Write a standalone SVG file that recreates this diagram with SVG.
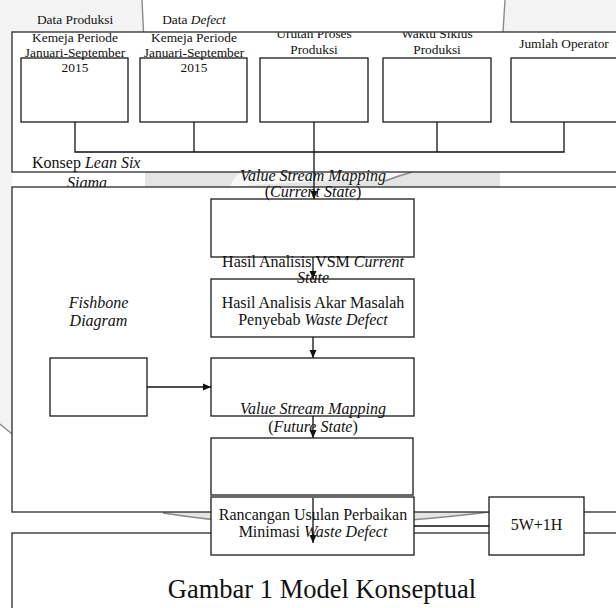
<svg xmlns="http://www.w3.org/2000/svg" width="616" height="608" viewBox="0 0 616 608">
<defs>
<style>
.box{fill:#fff;stroke:#1a1a1a;stroke-width:1.3}
.frame{fill:#fff;stroke:#2a2a2a;stroke-width:1.3}
.ln{fill:none;stroke:#111;stroke-width:1.3}
.t{font-family:"Liberation Serif","Times New Roman",serif;font-size:13.4px;fill:#111;text-anchor:middle}
.m{font-size:16px}
.i{font-style:italic}
.wm{fill:#f3f3f3}
.wm2{fill:#e4e4e4}
.wl{fill:none;stroke:#8a8a8a;stroke-width:1.4}
</style>
<marker id="ah" markerUnits="userSpaceOnUse" markerWidth="8" markerHeight="8" refX="8" refY="4" orient="auto">
<path d="M0,0.5 L8,4 L0,7.5 z" fill="#111"/>
</marker>
<clipPath id="inF1"><rect x="0" y="32.5" width="616" height="200"/></clipPath>
</defs>
<rect width="616" height="608" fill="#fff"/>
<g id="watermark">
<path class="wm" d="M0,0 H142 L143.5,32 H0 Z"/>
<path class="wm" d="M505,0 H616 V32 H503 Z"/>
<path class="wm" d="M0,32 H12 V434 L0,424 Z"/>
<path class="wl" d="M142,0 L143.5,32"/>
<path class="wl" d="M505,0 L503,32"/>
<path class="wl" d="M0,424 L12,434"/>
<path class="wm2" d="M145,172 H500 V187 H145 Z"/>
<path fill="#f7f7f7" d="M230,187 Q300,181 385,180 Q400,176 412,172 H240 Q232,180 230,187 Z"/>
<path class="wl" d="M385,181 Q398,176 412,172"/>
<path class="wm2" d="M163,512 H489 Q420,521 300,527 Q220,522 163,513 Z"/>
<path class="wl" d="M163,513 Q220,522 300,527 Q420,521 489,512"/>
</g>
<g id="frame-lean">
<rect class="frame" x="12" y="32" width="620" height="140"/>
<text class="t m" x="32" y="167.5" text-anchor="start" style="text-anchor:start">Konsep <tspan class="i">Lean Six</tspan></text>
<text class="t m i" x="87" y="188">Sigma</text>
</g>
<g id="frame-main">
<rect class="frame" x="12" y="187" width="620" height="325"/>
</g>
<g id="frame-bottom">
<rect class="frame" x="12" y="533" width="620" height="90"/>
</g>
<g id="node-data-produksi">
<rect class="box" x="21" y="58" width="107" height="64"/>
<text class="t" x="75" y="24">Data Produksi</text>
<text class="t" x="75" y="42">Kemeja Periode</text>
<text class="t" x="75" y="57">Januari-September</text>
<text class="t" x="75" y="72">2015</text>
</g>
<g id="node-data-defect">
<rect class="box" x="140" y="58" width="107" height="64"/>
<text class="t" x="194" y="24">Data <tspan class="i">Defect</tspan></text>
<text class="t" x="194" y="42">Kemeja Periode</text>
<text class="t" x="194" y="57">Januari-September</text>
<text class="t" x="194" y="72">2015</text>
</g>
<g id="node-urutan">
<rect class="box" x="260" y="58" width="108" height="64"/>
<g clip-path="url(#inF1)">
<text class="t" x="314" y="37.5">Urutan Proses</text>
</g>
<text class="t" x="314" y="54">Produksi</text>
</g>
<g id="node-waktu">
<rect class="box" x="383" y="58" width="108" height="64"/>
<g clip-path="url(#inF1)">
<text class="t" x="437" y="37.5">Waktu Siklus</text>
</g>
<text class="t" x="437" y="54">Produksi</text>
</g>
<g id="node-operator">
<rect class="box" x="511" y="58" width="110" height="64"/>
<text class="t" x="564" y="48">Jumlah Operator</text>
</g>
<g id="node-vsm-current">
<rect class="box" x="211" y="199" width="203" height="58"/>
<text class="t m i" x="313" y="180.5">Value Stream Mapping</text>
<text class="t m" x="313" y="196.5">(<tspan class="i">Current State</tspan>)</text>
</g>
<g id="node-akar-masalah">
<rect class="box" x="211" y="279" width="203" height="58"/>
<text class="t m" x="313" y="266.5">Hasil Analisis VSM <tspan class="i">Current</tspan></text>
<text class="t m i" x="313" y="283">State</text>
<text class="t m" x="313" y="308">Hasil Analisis Akar Masalah</text>
<text class="t m" x="313" y="325">Penyebab <tspan class="i">Waste Defect</tspan></text>
</g>
<g id="node-fishbone">
<rect class="box" x="50" y="358" width="97" height="58"/>
<text class="t m i" x="98.5" y="308">Fishbone</text>
<text class="t m i" x="98.5" y="326">Diagram</text>
</g>
<g id="node-analisis">
<rect class="box" x="211" y="358" width="203" height="58"/>
</g>
<g id="node-vsm-future">
<rect class="box" x="211" y="438" width="202" height="57"/>
<text class="t m i" x="313" y="414">Value Stream Mapping</text>
<text class="t m" x="313" y="431.5">(<tspan class="i">Future State</tspan>)</text>
</g>
<g id="node-rancangan">
<rect class="box" x="211" y="497" width="203" height="58"/>
<text class="t m" x="313" y="519.5">Rancangan Usulan Perbaikan</text>
<text class="t m" x="313" y="537">Minimasi <tspan class="i">Waste Defect</tspan></text>
</g>
<g id="node-5w1h">
<rect class="box" x="489" y="497" width="95" height="58"/>
<text class="t m" x="536.5" y="530">5W+1H</text>
</g>
<g id="connectors">
<path class="ln" d="M75,122 V152 H564 V122"/>
<path class="ln" d="M194,122 V152"/>
<path class="ln" d="M437,122 V152"/>
<path class="ln" d="M314,122 V199" marker-end="url(#ah)"/>
<path class="ln" d="M313,257 V279" marker-end="url(#ah)"/>
<path class="ln" d="M313,337 V358" marker-end="url(#ah)"/>
<path class="ln" d="M147,387 H211" marker-end="url(#ah)"/>
<path class="ln" d="M313,416 V438" marker-end="url(#ah)"/>
<path class="ln" d="M313,498 V543" marker-end="url(#ah)"/>
<path class="ln" d="M414,526 H489"/>
</g>
<text class="t" x="322" y="598" style="font-size:26.5px">Gambar 1 Model Konseptual</text>
</svg>
